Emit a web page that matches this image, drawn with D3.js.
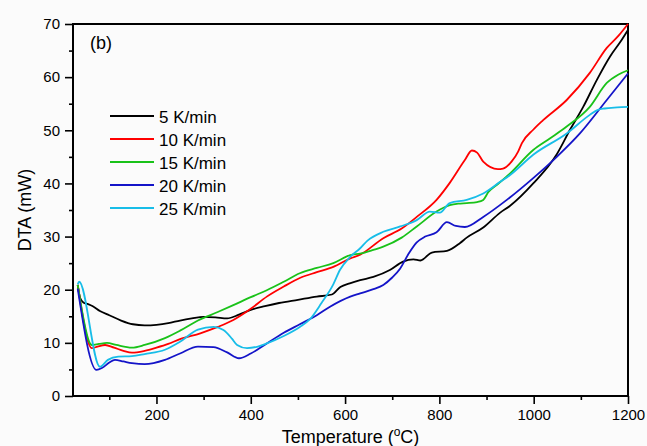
<!DOCTYPE html>
<html>
<head>
<meta charset="utf-8">
<script src="https://cdn.jsdelivr.net/npm/d3@7"></script>
<style>
  html, body { margin: 0; padding: 0; background: #fbfbfb; }
  svg { display: block; font-family: "Liberation Sans", Arial, sans-serif; }
</style>
</head>
<body>
<svg id="chart" width="647" height="446"></svg>
<script>
// ---- data ----
const seriesNames = ["5 K/min", "10 K/min", "15 K/min", "20 K/min", "25 K/min"];
const seriesColors = ["#000000", "#ff0000", "#19c219", "#1414c8", "#18bde8"];

const t5  = [33,38,45,55,65,80,100,125,150,175,200,225,250,275,300,325,350,375,400,430,460,500,540,572,590,610,632,660,695,723,745,760,784,816,844,858,893,929,950,999,1049,1077,1105,1134,1162,1185,1200];
const v5  = [20.9,18.5,17.6,17.3,16.9,16.0,15.2,14.2,13.5,13.3,13.4,13.7,14.2,14.6,14.9,14.8,14.6,15.3,16.2,16.9,17.5,18.1,18.7,19.1,20.5,21.2,21.8,22.4,23.7,25.3,25.7,25.5,27.0,27.3,28.8,29.8,31.7,34.5,35.8,40.0,45.5,50.1,54.4,59.5,63.9,66.8,68.9];

const t10 = [33,63,75,91,110,130,148,175,200,225,250,293,330,363,400,434,470,504,540,575,611,632,681,720,752,794,822,854,869,880,893,924,935,953,967,975,999,1020,1070,1119,1155,1180,1200];
const v10 = [20.9,9.0,9.3,9.6,9.1,8.5,8.15,8.5,9.1,9.8,10.7,11.8,13.0,14.3,16.4,18.7,20.6,22.2,23.3,24.3,25.9,26.6,29.7,31.5,33.7,36.9,40.1,44.4,46.2,45.8,44.1,42.7,42.8,44.1,46.0,47.6,50.1,51.9,55.7,60.8,65.5,67.8,70.0];

const t15 = [33,63,78,95,115,148,175,218,250,288,330,363,400,434,470,504,540,575,611,632,660,681,720,752,794,822,840,858,880,893,904,920,950,999,1035,1070,1119,1155,1180,1200];
const v15 = [20.9,9.6,9.8,10.0,9.6,9.1,9.6,10.9,12.3,14.2,15.8,17.1,18.6,19.9,21.5,23.1,24.1,25.0,26.5,26.8,27.5,28.1,29.8,31.9,34.7,35.9,36.2,36.3,36.5,36.9,38.4,39.6,41.9,46.3,48.5,50.7,54.4,58.9,60.5,61.3];

const t20 = [33,73,85,100,112,130,148,175,218,250,288,321,350,375,400,434,470,504,540,568,611,632,660,681,700,717,735,752,770,794,816,835,854,893,943,999,1049,1098,1155,1200];
const v20 = [20.2,4.9,5.3,6.3,6.8,6.5,6.2,6.0,6.8,8.0,9.3,9.2,8.2,7.1,8.0,9.9,11.9,13.5,15.2,16.8,18.7,19.3,20.1,20.9,22.3,24.0,26.8,28.9,30.0,30.8,32.7,32.0,31.8,33.7,36.9,41.0,45.0,49.4,55.7,60.7];

const t25 = [33,36,80,97,119,148,175,218,250,288,321,342,360,371,392,415,434,470,504,525,550,575,589,611,632,647,681,717,752,780,801,822,858,893,929,950,999,1070,1119,1135,1150,1177,1200];
const v25 = [21.0,21.5,5.5,6.8,7.4,7.5,7.9,8.7,10.2,12.5,13.0,12.4,10.8,9.6,9.0,9.3,9.9,11.3,13.0,14.4,17.5,21.0,23.7,26.2,27.8,29.2,30.9,31.9,33.1,34.7,34.5,36.3,36.9,38.1,40.3,41.6,45.4,49.4,52.9,53.8,54.1,54.3,54.4];

const xTicks = [200, 400, 600, 800, 1000, 1200];
const xMinorTicks = [100, 300, 500, 700, 900, 1100];
const yTicks = [0, 10, 20, 30, 40, 50, 60, 70];
const yMinorTicks = [5, 15, 25, 35, 45, 55, 65];

const series = [
  { name: seriesNames[0], color: seriesColors[0], t: t5,  v: v5  },
  { name: seriesNames[1], color: seriesColors[1], t: t10, v: v10 },
  { name: seriesNames[2], color: seriesColors[2], t: t15, v: v15 },
  { name: seriesNames[3], color: seriesColors[3], t: t20, v: v20 },
  { name: seriesNames[4], color: seriesColors[4], t: t25, v: v25 }
];

// ---- layout ----
const FONT = "'Liberation Sans', Arial, sans-serif";
const svg = d3.select("#chart");
const L = 73, R = 628, T = 24, B = 396;

const x = d3.scaleLinear().domain([23, 1200]).range([L, R]);
const y = d3.scaleLinear().domain([0, 70]).range([B, T]);

// axes
svg.append("g").attr("transform", `translate(0,${B})`)
  .call(d3.axisBottom(x).tickValues(xTicks).tickSize(8).tickSizeOuter(0).tickPadding(5).tickFormat(d3.format("d")));
svg.append("g").attr("transform", `translate(0,${B})`)
  .call(d3.axisBottom(x).tickValues(xMinorTicks).tickSize(4).tickSizeOuter(0).tickFormat(""));

svg.append("g").attr("transform", `translate(${L},0)`)
  .call(d3.axisLeft(y).tickValues(yTicks).tickSize(8).tickSizeOuter(0).tickPadding(5));
svg.append("g").attr("transform", `translate(${L},0)`)
  .call(d3.axisLeft(y).tickValues(yMinorTicks).tickSize(4).tickSizeOuter(0).tickFormat(""));

svg.selectAll(".domain").remove();
svg.selectAll(".tick line").attr("stroke", "#000").attr("stroke-width", 1.6);
svg.selectAll(".tick text").attr("font-size", 15).attr("fill", "#000").attr("font-family", FONT);

// frame
svg.append("rect").attr("x", L).attr("y", T).attr("width", R - L).attr("height", B - T)
  .attr("fill", "none").attr("stroke", "#000").attr("stroke-width", 2);

// lines
const line = d3.line().x(d => x(d[0])).y(d => y(d[1])).curve(d3.curveMonotoneX);
const plot = svg.append("g");
series.forEach(s => {
  const pts = s.t.map((tt, i) => [tt, s.v[i]]);
  plot.append("path").datum(pts).attr("d", line)
    .attr("fill", "none").attr("stroke", s.color).attr("stroke-width", 1.8)
    .attr("stroke-linejoin", "round");
});

// legend
const leg = svg.append("g");
series.forEach((s, i) => {
  const yy = 116 + i * 23;
  leg.append("line").attr("x1", 110).attr("x2", 154).attr("y1", yy).attr("y2", yy)
    .attr("stroke", s.color).attr("stroke-width", 2);
  leg.append("text").attr("x", 159).attr("y", yy + 6.5).attr("font-size", 17)
    .attr("font-family", FONT).attr("fill", "#000").text(s.name);
});

// panel label
svg.append("text").attr("x", 90).attr("y", 49).attr("font-size", 18)
  .attr("font-family", FONT).attr("fill", "#000").text("(b)");

// axis titles
svg.append("text").attr("transform", `translate(31,${(T + B) / 2}) rotate(-90)`)
  .attr("text-anchor", "middle").attr("font-size", 18).attr("font-family", FONT)
  .attr("fill", "#000").text("DTA (mW)");

const xt = svg.append("text").attr("x", (L + R) / 2).attr("y", 443)
  .attr("text-anchor", "middle").attr("font-size", 18).attr("font-family", FONT).attr("fill", "#000");
xt.append("tspan").text("Temperature (");
xt.append("tspan").attr("font-size", 12).attr("dy", -7).text("o");
xt.append("tspan").attr("dy", 7).text("C)");
</script>
</body>
</html>
